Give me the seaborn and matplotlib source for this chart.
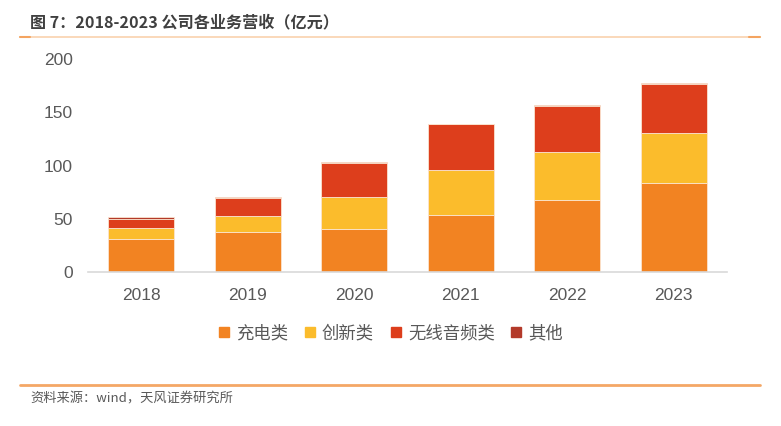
import matplotlib
matplotlib.use("Agg")
import matplotlib.pyplot as plt
import numpy as np
import seaborn as sns
from matplotlib.lines import Line2D

years = ["2018", "2019", "2020", "2021", "2022", "2023"]
charging = [31.5, 37.7, 40.2, 53.6, 67.6, 84.1]      # 充电类
innovation = [10.0, 15.2, 30.5, 42.3, 44.8, 46.7]    # 创新类
wireless_audio = [8.8, 16.5, 31.7, 42.7, 44.0, 45.8]  # 无线音频类
other = [1.2, 1.2, 1.0, 0.9, 0.9, 1.2]               # 其他

series_names = ["充电类", "创新类", "无线音频类", "其他"]
series_vals = [charging, innovation, wireless_audio, other]
colors = ["#F28322", "#FBBC2C", "#DD3E1C", "#B33A2A"]

sns.set_theme(style="white")
plt.rcParams["font.family"] = ["Liberation Sans", "Noto Sans CJK SC", "DejaVu Sans"]
cjk = ["Noto Sans CJK SC", "DejaVu Sans"]
text_grey = "#595959"

fig = plt.figure(figsize=(7.81, 4.26), dpi=100)
ax = fig.add_axes([0.1127, 0.3608, 0.8182, 0.5007])

bottom = np.zeros(len(years))
for name, vals, c in zip(series_names, series_vals, colors):
    sns.barplot(x=years, y=vals, bottom=bottom, color=c, width=0.62,
                edgecolor="#FBE3CF", linewidth=0.6, saturation=1, ax=ax)
    bottom = bottom + np.array(vals)

ax.set_xlim(-0.5, 5.5)
ax.set_ylim(0, 200)
ax.set_yticks([0, 50, 100, 150, 200])
ax.tick_params(axis="y", length=0, pad=11, labelsize=12.5, labelcolor=text_grey)
ax.tick_params(axis="x", length=0, pad=11, labelsize=12.5, labelcolor=text_grey)
for s in ["top", "right", "left"]:
    ax.spines[s].set_visible(False)
ax.spines["bottom"].set_color("#D9D9D9")
ax.spines["bottom"].set_linewidth(1.2)
ax.set_xlabel("")
ax.set_ylabel("")

# legend
handles = [Line2D([], [], marker="s", linestyle="", markersize=7,
                  markerfacecolor=c, markeredgecolor=c) for c in colors]
leg = fig.legend(handles, series_names, loc="center", bbox_to_anchor=(0.5, 0.218),
                 ncol=4, frameon=False, handlelength=0.7, handletextpad=0.35,
                 columnspacing=0.9, prop={"family": cjk, "size": 12.5})
for t in leg.get_texts():
    t.set_color(text_grey)

# header / footer
fig.text(30 / 781, 1 - 22 / 426, "图 7：2018-2023 公司各业务营收（亿元）", family=cjk,
         fontsize=11.6, fontweight="bold", color="#404040", va="center", ha="left")
fig.add_artist(Line2D([20 / 781, 760 / 781], [1 - 37 / 426] * 2, color="#FAD2AE", lw=1.2))
fig.add_artist(Line2D([20 / 781, 30 / 781], [1 - 37 / 426] * 2, color="#F4A460", lw=1.5))
fig.add_artist(Line2D([749 / 781, 760 / 781], [1 - 37 / 426] * 2, color="#F4A460", lw=1.5))
fig.add_artist(Line2D([20 / 781, 760 / 781], [1 - 385 / 426] * 2, color="#F4A766", lw=2))
fig.text(30 / 781, 1 - 399 / 426, "资料来源：wind，天风证券研究所", family=cjk,
         fontsize=9.5, color=text_grey, va="center", ha="left")

fig.savefig("out.png", dpi=100)
